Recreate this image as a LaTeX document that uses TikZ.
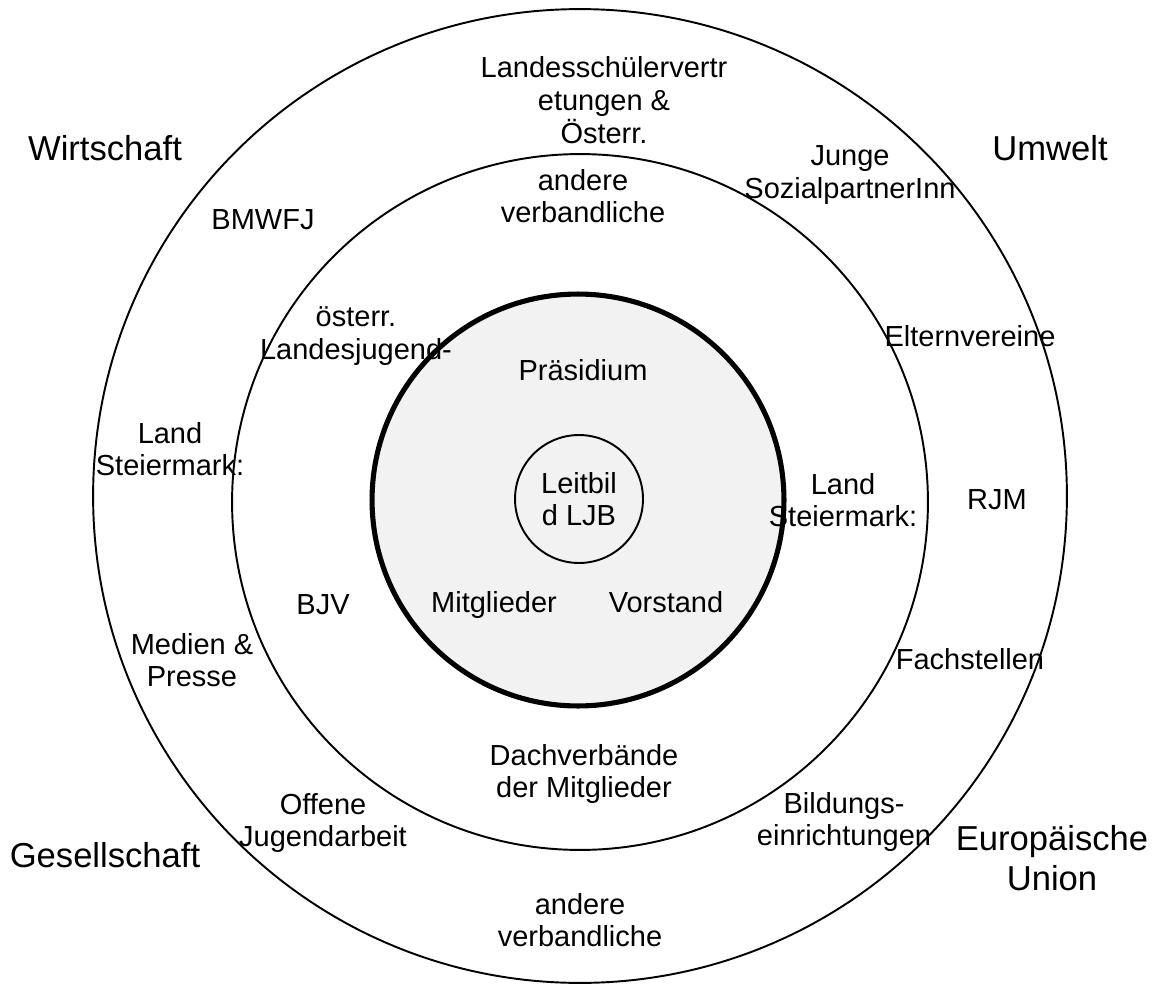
\documentclass[tikz,border=0pt]{standalone}
\usepackage{fontspec}
\setmainfont{Liberation Sans}
\begin{document}
\begin{tikzpicture}[x=0.02cm,y=-0.02cm,
  lbl/.style={align=center,inner sep=0pt,font=\fontsize{16.5}{18.6}\selectfont},
  big/.style={align=center,inner sep=0pt,font=\fontsize{19.7}{22.8}\selectfont},
  ring/.style={draw=black,line width=1.1pt}]
\useasboundingbox (0,0) rectangle (1155,983);
% circles
\node[ring,circle,minimum size=19.48cm,inner sep=0pt] (outer) at (580,496) {};
\node[ring,circle,minimum size=13.92cm,inner sep=0pt] (middle) at (580,502) {};
\node[draw=black,fill={rgb,255:red,242;green,242;blue,242},line width=2.9pt,circle,minimum size=8.24cm,inner sep=0pt] (core) at (578,500) {};
\node[ring,circle,minimum size=2.56cm,inner sep=0pt] (leit) at (579,499) {};
% labels
\node[lbl] (lsv) at (604,100) {Landesschülervertr\\etungen \&\\Österr.};
\node[big] (wirt) at (105,148) {Wirtschaft};
\node[big] (umw) at (1050,148) {Umwelt};
\node[lbl] (junge) at (850,175) {Junge\\SozialpartnerInn};
\node[lbl] (bmwfj) at (263,220) {BMWFJ};
\node[lbl] (andtop) at (583,196) {andere\\verbandliche};
\node[lbl] (oest) at (356,336) {österr.\\Landesjugend-};
\node[lbl] (praes) at (583,370) {Präsidium};
\node[lbl] (eltern) at (970,336) {Elternvereine};
\node[lbl] (landl) at (170,449) {Land\\Steiermark:};
\node[lbl] (leittext) at (leit.center) {Leitbil\\d LJB};
\node[lbl] (landr) at (843,500) {Land\\Steiermark:};
\node[lbl] (rjm) at (997,500) {RJM};
\node[lbl] (bjv) at (323,605) {BJV};
\node[lbl] (mitgl) at (494,605) {Mitglieder};
\node[lbl] (vorst) at (666,602) {Vorstand};
\node[lbl] (medien) at (192,660) {Medien \&\\Presse};
\node[lbl] (fach) at (970,659) {Fachstellen};
\node[lbl] (dach) at (584,774) {Dachverbände\\der Mitglieder};
\node[lbl] (offene) at (323,823) {Offene\\Jugendarbeit};
\node[lbl] (bild) at (844,822) {Bildungs-\\einrichtungen};
\node[big] (ges) at (105,855) {Gesellschaft};
\node[big] (eu) at (1052,858) {Europäische\\Union};
\node[lbl] (andbot) at (580,920) {andere\\verbandliche};
\end{tikzpicture}
\end{document}
